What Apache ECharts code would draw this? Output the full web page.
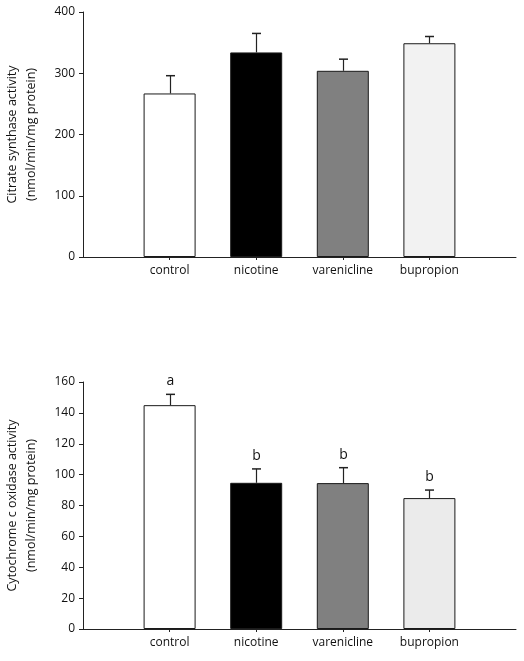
<!DOCTYPE html>
<html><head><meta charset="utf-8">
<script src="https://cdn.jsdelivr.net/npm/echarts@6/dist/echarts.min.js"></script>
<style>html,body{margin:0;padding:0;background:#fff}#c{width:524px;height:661px}</style>
</head><body><div id="c"></div>
<script>
const categories = ['', 'control', 'nicotine', 'varenicline', 'bupropion', ''];
const groups = ['control', 'nicotine', 'varenicline', 'bupropion'];
const barColors = ['#ffffff', '#000000', '#808080', '#f2f2f2'];
const barColors2 = ['#ffffff', '#000000', '#808080', '#ebebeb'];
// top: citrate synthase
const csMean = [267, 334, 304, 349];
const csErr = [29, 31, 19, 11];
const csTicks = [0, 100, 200, 300, 400];
// bottom: cytochrome c oxidase
const coxMean = [145, 94.7, 94.5, 84.8];
const coxErr = [7, 9, 10, 5.2];
const coxLetters = ['a', 'b', 'b', 'b'];
const coxTicks = [0, 20, 40, 60, 80, 100, 120, 140, 160];

const FONT = 'Open Sans';
const axisColor = '#222';
const textColor = '#111';

function xAxis(gridIndex) {
  return {
    type: 'category', gridIndex, data: categories, boundaryGap: false,
    axisLine: { lineStyle: { color: axisColor, width: 1 } },
    axisTick: { show: true, length: 3, inside: false, interval: (i) => i > 0 && i < categories.length - 1, lineStyle: { color: axisColor } },
    axisLabel: { interval: 0, margin: 8, color: textColor, fontFamily: FONT, fontSize: 12 },
    splitLine: { show: false }
  };
}
function yAxis(gridIndex, ticks, name) {
  return {
    type: 'value', gridIndex, min: ticks[0], max: ticks[ticks.length - 1], interval: ticks[1] - ticks[0],
    name, nameLocation: 'middle', nameGap: 42, nameRotate: 90,
    nameTextStyle: { color: textColor, fontFamily: FONT, fontSize: 12.5, lineHeight: 19, align: 'center' },
    axisLine: { show: true, lineStyle: { color: axisColor, width: 1 } },
    axisTick: { show: true, length: 4, lineStyle: { color: axisColor } },
    axisLabel: { margin: 8, color: textColor, fontFamily: FONT, fontSize: 12 },
    splitLine: { show: false }
  };
}
function barData(means, colors) {
  const d = ['-'];
  means.forEach((v, i) => d.push({ value: v, itemStyle: { color: colors[i] } }));
  d.push('-');
  return d;
}
function errData(means, errs, letters) {
  return groups.map((g, i) => [g, means[i], errs[i], letters ? letters[i] : '']);
}
function renderErr(params, api) {
  const cat = api.value(0);
  const m = api.value(1), e = api.value(2);
  const p0 = api.coord([cat, m]);
  const p1 = api.coord([cat, m + e]);
  const x = Math.round(p0[0]) + 0.5;
  const children = [
    { type: 'line', shape: { x1: x, y1: p0[1], x2: x, y2: p1[1] }, style: { stroke: axisColor, lineWidth: 1.2 } },
    { type: 'line', shape: { x1: x - 4.5, y1: p1[1], x2: x + 4.5, y2: p1[1] }, style: { stroke: axisColor, lineWidth: 1.5 } }
  ];
  const letter = api.value(3);
  if (letter) {
    children.push({ type: 'text', style: { text: String(letter), x: x, y: p1[1] - 6, align: 'center', verticalAlign: 'bottom', fill: textColor, font: '14px "' + FONT + '"' } });
  }
  return { type: 'group', children };
}

const chart = echarts.init(document.getElementById('c'), null, { renderer: 'canvas' });
chart.setOption({
  animation: false,
  backgroundColor: '#fff',
  grid: [
    { left: 83, right: 8, top: 12, bottom: 404, containLabel: false, outerBoundsMode: 'none' },
    { left: 83, right: 8, top: 382, bottom: 32, containLabel: false, outerBoundsMode: 'none' }
  ],
  xAxis: [xAxis(0), xAxis(1)],
  yAxis: [
    yAxis(0, csTicks, 'Citrate synthase activity\n(nmol/min/mg protein)'),
    yAxis(1, coxTicks, 'Cytochrome c oxidase activity\n(nmol/min/mg protein)')
  ],
  series: [
    { type: 'bar', xAxisIndex: 0, yAxisIndex: 0, barWidth: 52, data: barData(csMean, barColors), itemStyle: { borderColor: '#1a1a1a', borderWidth: 1 } },
    { type: 'custom', xAxisIndex: 0, yAxisIndex: 0, data: errData(csMean, csErr), renderItem: renderErr, z: 3 },
    { type: 'bar', xAxisIndex: 1, yAxisIndex: 1, barWidth: 52, data: barData(coxMean, barColors2), itemStyle: { borderColor: '#1a1a1a', borderWidth: 1 } },
    { type: 'custom', xAxisIndex: 1, yAxisIndex: 1, data: errData(coxMean, coxErr, coxLetters), renderItem: renderErr, z: 3 }
  ]
});
</script></body></html>
